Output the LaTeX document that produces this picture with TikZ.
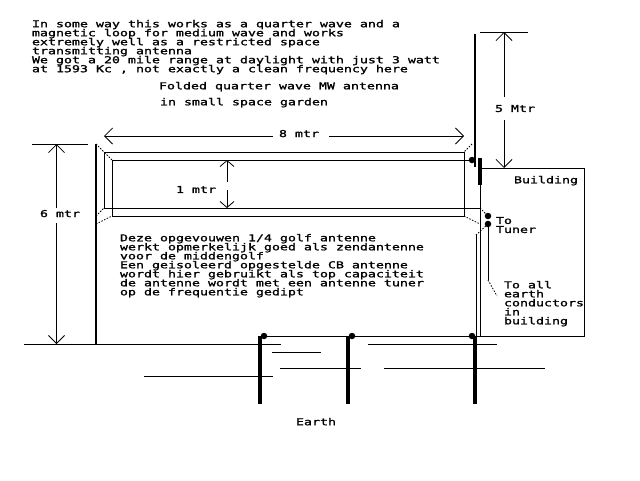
\documentclass[tikz,border=0pt]{standalone}
\usepackage{fontspec}
\newfontfamily\bitfont{DejaVu Sans Mono}[FakeStretch=1.3986,FakeBold=1.5]
\usetikzlibrary{arrows.meta}
\AtBeginDocument{\normallineskiplimit=-10pt \lineskiplimit=-10pt}
\tikzstyle{label} = [
    inner sep=0pt,
    outer sep=0pt,
    anchor=north west,
    align=left,
    font=\bitfont\fontsize{9.5}{9}\selectfont
]
\tikzstyle{wire} = [
    line width=1pt
]
\tikzstyle{dotwire} = [
    line width=0.8pt,
    dash pattern=on 1.5pt off 1.5pt
]
\tikzstyle{mast} = [
    line width=2.5pt
]
\tikzstyle{rod} = [
    line width=4pt
]
\tikzstyle{arrow} = [
    line width=1pt,
    -{Straight Barb[length=8pt,width=16pt,line width=0.8pt]}
]
\tikzstyle{small arrow} = [
    line width=1pt,
    -{Straight Barb[length=6pt,width=14pt,line width=0.8pt]}
]
\tikzstyle{joint} = [
    circle,
    fill=black,
    inner sep=0pt,
    minimum size=6.5pt
]
\begin{document}
\begin{tikzpicture}[x=1pt, y=-1pt]
        \useasboundingbox (0,0) rectangle (640,480);
        % texts
        \node (intro) [label] at (32,20) {In some way this works as a quarter wave and a\\magnetic loop for medium wave and works\\extremely well as a restricted space\\transmitting antenna\\We got a 20 mile range at daylight with just 3 watt\\at 1593 Kc , not exactly a clean frequency here};
        \node (title) [label] at (159,82) {Folded quarter wave MW antenna};
        \node (subtitle) [label] at (160,98) {in small space garden};
        \node (dutch) [label] at (120,234) {Deze opgevouwen 1/4 golf antenne\\werkt opmerkelijk goed als zendantenne\\voor de middengolf\\Een geisoleerd opgestelde CB antenne\\wordt hier gebruikt als top capaciteit\\de antenne wordt met een antenne tuner\\op de frequentie gedipt};
        \node (eight) [label] at (279,130) {8 mtr};
        \node (one) [label] at (176,186) {1 mtr};
        \node (six) [label] at (40,210) {6 mtr};
        \node (five) [label] at (495,105) {5 Mtr};
        \node (building) [label] at (514,176) {Building};
        \node (tuner) [label] at (496,217) {To\\Tuner};
        \node (conductors) [label] at (504,281) {To all\\earth\\conductors\\in\\building};
        \node (earth) [label] at (296,418) {Earth};

        % dimension arrows
        \draw[arrow] (273,136) -- (104,136);
        \draw[arrow] (329,136) -- (464,136);
        \draw[arrow] (56.5,208) -- (56.5,144);
        \draw[arrow] (56.5,223) -- (56.5,344);
        \draw[arrow] (504,97) -- (504,32);
        \draw[arrow] (504,120) -- (504,168);
        \draw[small arrow] (227,182) -- (227,160);
        \draw[small arrow] (227,190) -- (227,208);

        % loop
        \draw[wire] (472,160) -- (112,160) -- (112,216) -- (464,216) -- (464,152) -- (104,152) -- (104,208) -- (480,208);
        \draw[dotwire] (96,144) -- (112,160);
        \draw[dotwire] (96,224) -- (112,216);
        \draw[dotwire] (96,216) -- (104,208);
        \draw[dotwire] (472,144) -- (464,152);
        \draw[dotwire] (464,216) -- (480,224);
        \draw[dotwire] (480,208) -- (488,216);
        \draw[dotwire] (488,224) -- (476,235);
        \draw[dotwire] (488,280) -- (497,296);

        % masts
        \draw[mast] (96,144) -- (96,344);
        \draw[mast] (475,34) -- (475,167);
        \draw[rod] (480,158) -- (480,185);

        % building and ground
        \draw[wire] (480,185) -- (480,336);
        \draw[wire] (480,168) -- (584,168) -- (584,336) -- (264,336);
        \draw[wire] (476,235) -- (476,336);
        \draw[wire] (488,224) -- (488,280);
        \draw[wire] (480,32) -- (528,32);
        \draw[wire] (32,144) -- (88,144);
        \draw[wire] (24,344) -- (281,344);
        \draw[wire] (272,352) -- (321,352);
        \draw[wire] (280,368) -- (361,368);
        \draw[wire] (144,376) -- (273,376);
        \draw[wire] (368,344) -- (497,344);
        \draw[wire] (384,368) -- (545,368);

        % earth rods
        \draw[rod] (260,336) -- (260,404);
        \draw[rod] (348,336) -- (348,404);
        \draw[rod] (475,336) -- (475,404);
        \node (jointa) [joint] at (264,336) {};
        \node (jointb) [joint] at (352,336) {};
        \node (jointc) [joint] at (472,336) {};
        \node (jointd) [joint] at (472,160) {};
        \node (jointe) [joint] at (488,216) {};
        \node (jointf) [joint] at (488,224) {};
    \end{tikzpicture}
\end{document}
